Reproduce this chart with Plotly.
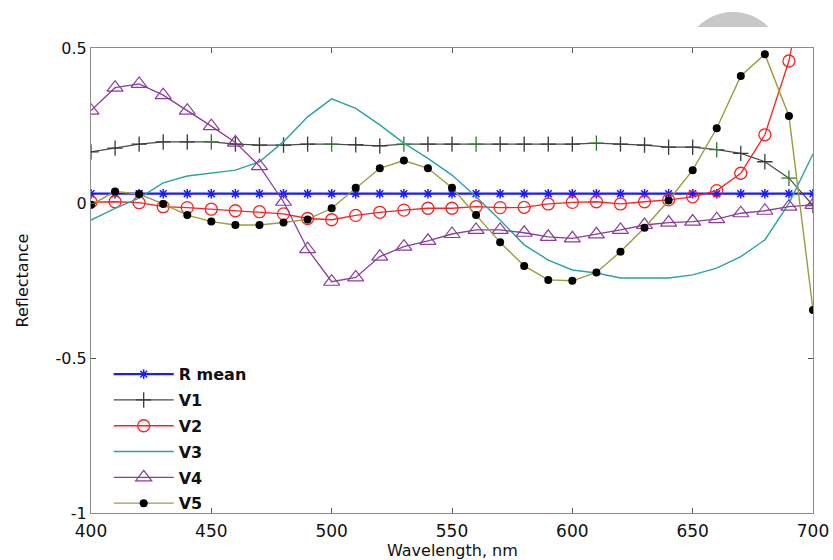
import numpy as np
import plotly.graph_objects as go

# Wavelength grid (nm)
wavelength = list(range(400, 701, 10))

r_mean = [0.03] * 31

v1 = [0.165, 0.177, 0.19, 0.197, 0.197, 0.197, 0.19, 0.187, 0.187, 0.19,
      0.19, 0.188, 0.184, 0.19, 0.19, 0.19, 0.19, 0.19, 0.19, 0.19,
      0.19, 0.193, 0.19, 0.187, 0.18, 0.18, 0.172, 0.16, 0.133, 0.08, -0.008]

v2 = [0.003, 0.004, 0.001, -0.012, -0.015, -0.02, -0.025, -0.028, -0.035, -0.05,
      -0.054, -0.04, -0.03, -0.023, -0.017, -0.017, -0.012, -0.015, -0.014, -0.003,
      0.002, 0.004, -0.003, 0.004, 0.01, 0.02, 0.04, 0.096, 0.22, 0.458, 0.85]

v3 = [-0.055, -0.017, 0.016, 0.065, 0.087, 0.097, 0.106, 0.133, 0.198, 0.278,
      0.336, 0.305, 0.252, 0.193, 0.144, 0.09, 0.02, -0.055, -0.135, -0.184,
      -0.216, -0.226, -0.242, -0.242, -0.242, -0.232, -0.21, -0.173, -0.119, -0.001, 0.158]

v4 = [0.298, 0.372, 0.384, 0.348, 0.298, 0.248, 0.195, 0.119, 0.004, -0.149,
      -0.254, -0.24, -0.173, -0.141, -0.122, -0.1, -0.087, -0.087, -0.096, -0.109,
      -0.114, -0.101, -0.087, -0.071, -0.063, -0.06, -0.052, -0.033, -0.025, -0.012, -0.006]

v5 = [-0.006, 0.037, 0.029, -0.003, -0.039, -0.06, -0.071, -0.071, -0.063, -0.053,
      -0.017, 0.049, 0.112, 0.137, 0.112, 0.049, -0.039, -0.127, -0.203, -0.248,
      -0.251, -0.224, -0.157, -0.08, 0.008, 0.106, 0.241, 0.41, 0.48, 0.281, -0.345]

x_ticks = [400, 450, 500, 550, 600, 650, 700]
y_ticks = [-1, -0.5, 0, 0.5]
y_tick_text = ["-1", "-0.5", "0", "0.5"]

FONT = "'DejaVu Sans', Arial, sans-serif"

# V1 '+' markers: a few of them render dark green
v1_green = {450, 500, 530, 560, 610, 660, 690}
v1_marker_colors = ["#2f7a2f" if w in v1_green else "#3a3a3a" for w in wavelength]

fig = go.Figure()

fig.add_trace(go.Scatter(
    x=wavelength, y=r_mean, name="<b>R mean</b>", mode="lines+markers",
    line=dict(color="#1a1aff", width=2.2),
    marker=dict(symbol="asterisk-open", size=8, color="#1a1aff",
                line=dict(width=1.5, color="#1a1aff")),
    legendgroup="a"))

fig.add_trace(go.Scatter(
    x=wavelength, y=v1, name="<b>V1</b>", mode="lines+markers",
    line=dict(color="#4a4a4a", width=1.2),
    marker=dict(symbol="cross-thin-open", size=11, color=v1_marker_colors,
                line=dict(width=1.3, color=v1_marker_colors)),
    legendgroup="b"))

fig.add_trace(go.Scatter(
    x=wavelength, y=v2, name="<b>V2</b>", mode="lines+markers",
    line=dict(color="#ff2020", width=1.3),
    marker=dict(symbol="circle-open", size=12, color="#ff2020",
                line=dict(width=1.3, color="#ff2020")),
    legendgroup="c"))

fig.add_trace(go.Scatter(
    x=wavelength, y=v3, name="<b>V3</b>", mode="lines",
    line=dict(color="#2aa3a3", width=1.4),
    legendgroup="d"))

fig.add_trace(go.Scatter(
    x=wavelength, y=v4, name="<b>V4</b>", mode="lines+markers",
    line=dict(color="#8a3d9a", width=1.3),
    marker=dict(symbol="triangle-up-open", size=14, color="#8a3d9a",
                line=dict(width=1.2, color="#8a3d9a")),
    legendgroup="e"))

fig.add_trace(go.Scatter(
    x=wavelength, y=v5, name="<b>V5</b>", mode="lines+markers",
    line=dict(color="#9c9c3c", width=1.4),
    marker=dict(symbol="circle", size=8, color="#000000"),
    legendgroup="f"))

# Grey disc peeking above the top edge of the plot
W, H = 833, 560
ml, mr, mt, mb = 91, 20, 48, 47
pw, ph = W - ml - mr, H - mt - mb
cx, cy, rad, cut = 733.0, 61.5, 49.5, 27.0
ang0 = np.arcsin((cy - cut) / rad)
angs = np.linspace(ang0, np.pi - ang0, 60)
pts = [((cx + rad * np.cos(a) - ml) / pw, (H - mb - (cy - rad * np.sin(a))) / ph) for a in angs]
path = "M " + " L ".join(f"{px:.5f},{py:.5f}" for px, py in pts) + " Z"
fig.add_shape(type="path", path=path, xref="paper", yref="paper",
              fillcolor="#c8c8c8", line=dict(width=0), layer="below")

# x-axis title sits just under the tick labels
fig.add_annotation(text="Wavelength, nm", xref="paper", yref="paper",
                   x=0.5, y=0, xanchor="center", yanchor="middle", yshift=-37,
                   showarrow=False, font=dict(family=FONT, size=16, color="#111111"))

axis_common = dict(
    showgrid=False, zeroline=False, showline=True, linecolor="#8c8c8c", linewidth=1.2,
    mirror="ticks", ticks="inside", ticklen=5, tickcolor="#555555", tickwidth=1,
    automargin=False,
)

fig.update_layout(
    width=W, height=H,
    margin=dict(l=ml, r=mr, t=mt, b=mb),
    paper_bgcolor="white", plot_bgcolor="white",
    font=dict(family=FONT, color="#111111"),
    xaxis=dict(range=[400, 700], tickvals=x_ticks, ticklabelstandoff=2,
               tickfont=dict(family=FONT, size=17, color="#111111"),
               **axis_common),
    yaxis=dict(range=[-1, 0.5], tickvals=y_ticks, ticktext=y_tick_text,
               tickfont=dict(family=FONT, size=16, color="#111111"),
               title=dict(text="Reflectance", font=dict(family=FONT, size=16), standoff=22),
               **axis_common),
    legend=dict(x=0.0245, y=0.335, xanchor="left", yanchor="top",
                bgcolor="rgba(0,0,0,0)", borderwidth=0,
                font=dict(family=FONT, size=16, color="#111111"),
                tracegroupgap=2, itemwidth=60),
    showlegend=True,
)

fig.write_html("out.html")
